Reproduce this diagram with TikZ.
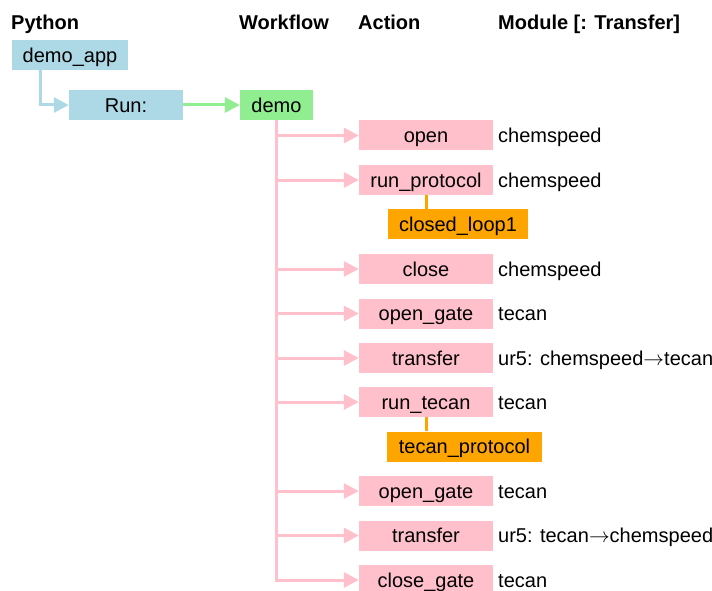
\documentclass[tikz,border=0pt]{standalone}
\usepackage{fontspec}
\setmainfont{Liberation Sans}
\usetikzlibrary{arrows.meta,calc}
\definecolor{cblue}{HTML}{ADD8E6}
\definecolor{cgreen}{HTML}{90EE90}
\definecolor{cpink}{HTML}{FFC0CB}
\definecolor{corange}{HTML}{FFA500}
\newcommand{\rarr}{\ensuremath{\rightarrow}}
\begin{document}
\begin{tikzpicture}[x=1pt,y=-1pt,
  every node/.style={font=\fontsize{20}{24}\selectfont, inner sep=0pt, text height=14.4pt, text depth=0pt},
  box/.style={rectangle, minimum height=30pt},
  pybox/.style={box, fill=cblue},
  wfbox/.style={box, fill=cgreen},
  actbox/.style={box, fill=cpink, minimum width=134pt},
  subbox/.style={box, fill=corange},
  modtext/.style={anchor=west},
  header/.style={anchor=west, font=\fontsize{20}{24}\selectfont\bfseries},
  tip/.style={-{Triangle[length=15pt,width=15pt]}},
  pinkline/.style={draw=cpink, line width=3pt, tip},
  blueline/.style={draw=cblue, line width=3pt, tip},
  greenline/.style={draw=cgreen, line width=3pt, tip},
  orangeline/.style={draw=corange, line width=3pt}
]
\useasboundingbox (0,0) rectangle (712,591);

% headers
\node[header] (hpy) at (11,22) {Python};
\node[header] (hwf) at (239,22) {Workflow};
\node[header] (hact) at (358,22) {Action};
\node[header] (hmod) at (498,22) {Module [: Transfer]};

% python / workflow
\node[pybox, minimum width=116pt] (demoapp) at (70,55) {demo\_app};
\node[pybox, minimum width=114pt] (run) at (126,105) {Run:};
\node[wfbox, minimum width=73pt] (demo) at (276.5,105) {demo};

% actions
\node[actbox] (a1) at (426,135.5) {open};
\node[actbox] (a2) at (426,180) {run\_protocol};
\node[subbox, minimum width=140pt] (s1) at (458,224) {closed\_loop1};
\node[actbox] (a3) at (426,269) {close};
\node[actbox] (a4) at (426,313.5) {open\_gate};
\node[actbox] (a5) at (426,358) {transfer};
\node[actbox] (a6) at (426,402) {run\_tecan};
\node[subbox, minimum width=155pt] (s2) at (464.5,446.5) {tecan\_protocol};
\node[actbox] (a7) at (426,491) {open\_gate};
\node[actbox] (a8) at (426,535.5) {transfer};
\node[actbox] (a9) at (426,580) {close\_gate};

% modules
\node[modtext] (m1) at (498,135.5) {chemspeed};
\node[modtext] (m2) at (498,180) {chemspeed};
\node[modtext] (m3) at (498,269) {chemspeed};
\node[modtext] (m4) at (498,313.5) {tecan};
\node[modtext] (m5) at (498,358) {ur5: chemspeed\rarr tecan};
\node[modtext] (m6) at (498,402) {tecan};
\node[modtext] (m7) at (498,491) {tecan};
\node[modtext] (m8) at (498,535.5) {ur5: tecan\rarr chemspeed};
\node[modtext] (m9) at (498,580) {tecan};

% connectors
\draw[blueline] ($(demoapp.south west)+(29,0)$) |- (run.west);
\draw[greenline] (run.east) -- (demo.west);
\foreach \a in {a1,a2,a3,a4,a5,a6,a7,a8,a9}{
  \draw[pinkline] (demo.south) |- (\a.west);
}
\draw[orangeline] (a2.south) -- (a2.south |- s1.north);
\draw[orangeline] (a6.south) -- (a6.south |- s2.north);
\end{tikzpicture}
\end{document}
